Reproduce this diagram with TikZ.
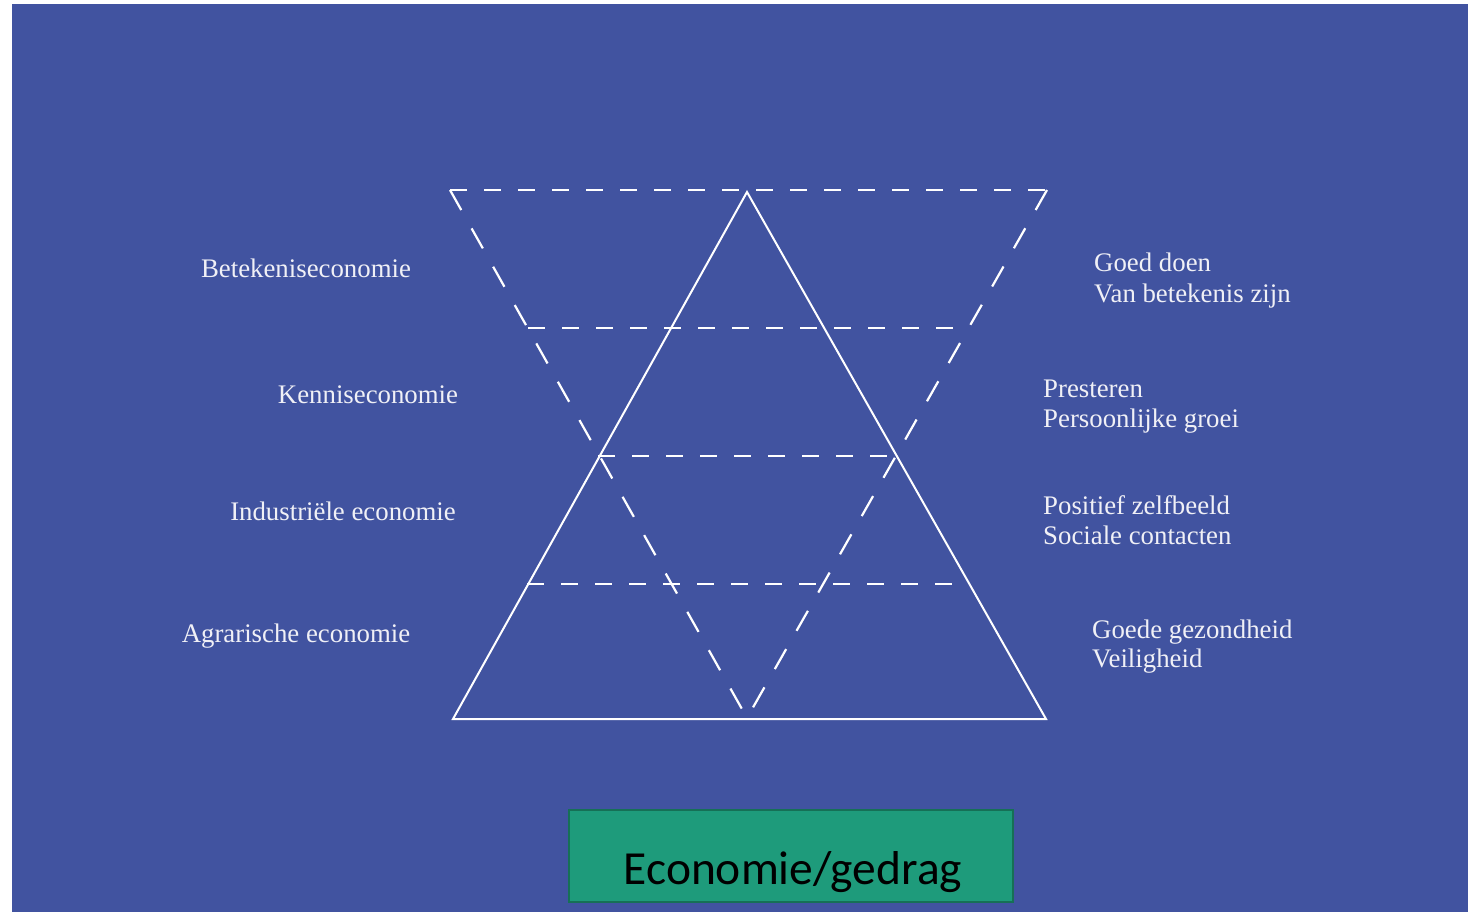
\documentclass[tikz,border=0pt]{standalone}
\usepackage{fontspec}
\setmainfont{Liberation Serif}
\newfontfamily\boxfont{Carlito}
\definecolor{bgblue}{RGB}{65,83,160}
\definecolor{boxgreen}{RGB}{30,155,123}
\definecolor{boxedge}{RGB}{22,112,86}
\definecolor{txt}{RGB}{240,240,246}
\begin{document}
\begin{tikzpicture}[x=1pt,y=-1pt,
  solidline/.style={draw=white,line width=2pt,line join=miter},
  dashline/.style={draw=white,line width=2.2pt,dash pattern=on 17pt off 17pt},
  slantdash/.style={draw=white,line width=2.2pt,dash pattern=on 23pt off 21pt},
  lefttxt/.style={text=txt,anchor=base,inner sep=0pt,font=\fontsize{26.8}{30}\selectfont},
  righttxt/.style={text=txt,anchor=base west,inner sep=0pt,font=\fontsize{26.8}{30}\selectfont}]
\useasboundingbox (0,0) rectangle (1468,912);
\fill[white] (0,0) rectangle (1468,912);
\fill[bgblue] (12,4) rectangle (1468,912);
% solid triangle
\coordinate (A) at (747,192);
\coordinate (BL) at (453,719);
\coordinate (BR) at (1046,719);
\draw[solidline] (A) -- (BL) -- (BR) -- cycle;
% dashed inverted triangle
\coordinate (TL) at (450,190);
\coordinate (TR) at (1047,190);
\coordinate (V) at (747,718);
\draw[dashline] (TL) -- (TR);
\draw[slantdash] (TL) -- (V);
\draw[slantdash] (TR) -- (V);
% dashed horizontal levels
\coordinate (L1a) at (528,328); \coordinate (L1b) at (968,328);
\coordinate (L2a) at (598,456); \coordinate (L2b) at (897,456);
\coordinate (L3a) at (527,584); \coordinate (L3b) at (970,584);
\draw[dashline] (L1a) -- (L1b);
\draw[dashline] (L2a) -- (L2b);
\draw[dashline] (L3a) -- (L3b);
% left labels
\node[lefttxt] (l1) at (306,278) {Betekeniseconomie};
\node[lefttxt] (l2) at (368,403) {Kenniseconomie};
\node[lefttxt] (l3) at (343,520) {Industriële economie};
\node[lefttxt] (l4) at (296,642) {Agrarische economie};
% right labels
\node[righttxt] (r1a) at (1094,272) {Goed doen};
\node[righttxt] (r1b) at (1094,302) {Van betekenis zijn};
\node[righttxt] (r2a) at (1043,397) {Presteren};
\node[righttxt] (r2b) at (1043,427) {Persoonlijke groei};
\node[righttxt] (r3a) at (1043,514) {Positief zelfbeeld};
\node[righttxt] (r3b) at (1043,544) {Sociale contacten};
\node[righttxt] (r4a) at (1092,638) {Goede gezondheid};
\node[righttxt] (r4b) at (1092,667) {Veiligheid};
% bottom box
\draw[fill=boxgreen,draw=boxedge,line width=2pt] (569,810) rectangle (1013,902);
\node[anchor=base,inner sep=0pt,font=\boxfont\fontsize{47.5}{56}\selectfont] (box) at (793,884) {Economie/gedrag};
\end{tikzpicture}
\end{document}
